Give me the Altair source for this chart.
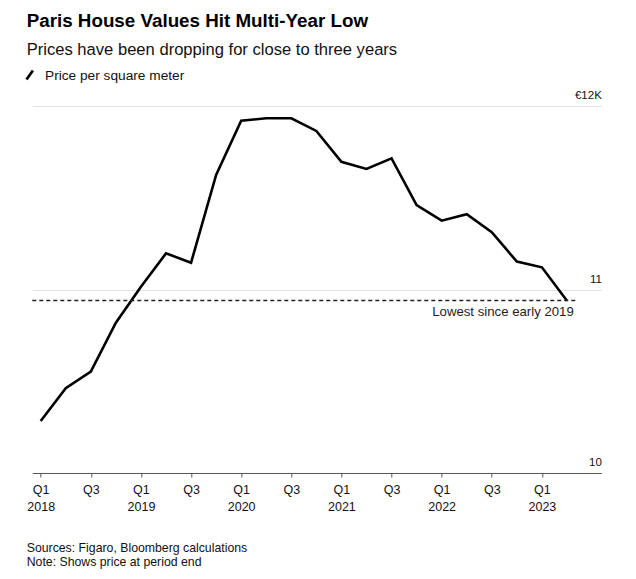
import json
import altair as alt
import pandas as pd

# ---- data ----
quarters = ["2018 Q1", "2018 Q2", "2018 Q3", "2018 Q4",
            "2019 Q1", "2019 Q2", "2019 Q3", "2019 Q4",
            "2020 Q1", "2020 Q2", "2020 Q3", "2020 Q4",
            "2021 Q1", "2021 Q2", "2021 Q3", "2021 Q4",
            "2022 Q1", "2022 Q2", "2022 Q3", "2022 Q4",
            "2023 Q1", "2023 Q2"]
prices = [10283, 10462, 10552, 10819,
          11015, 11197, 11146, 11624,
          11920, 11933, 11933, 11864,
          11696, 11657, 11715, 11460,
          11375, 11410, 11312, 11152,
          11121, 10939]
series_name = "Price per square meter"

low_level = 10940
low_label = "Lowest since early 2019"
x_domain = [-0.335, 22.37]           # quarter index range of the plot area
low_span = [-0.335, 21.33]           # quarter index span of the dashed reference line

tick_positions = [0, 2, 4, 6, 8, 10, 12, 14, 16, 18, 20]
tick_quarters = ["Q1", "Q3", "Q1", "Q3", "Q1", "Q3", "Q1", "Q3", "Q1", "Q3", "Q1"]
tick_years = ["2018", "", "2019", "", "2020", "", "2021", "", "2022", "", "2023"]
y_ticks = [10000, 11000, 12000]

title_text = "Paris House Values Hit Multi-Year Low"
subtitle_text = "Prices have been dropping for close to three years"
footer_lines = ["Sources: Figaro, Bloomberg calculations", "Note: Shows price at period end"]

# ---- build ----
df = pd.DataFrame({
    "quarter": quarters,
    "idx": list(range(len(quarters))),
    "price": prices,
    "series": [series_name] * len(quarters),
})

FONT = "Liberation Sans"
W, H = 569, 367

x_scale = alt.Scale(domain=x_domain, nice=False, zero=False)
y_scale = alt.Scale(domain=[10000, 12000], nice=False, zero=False)

label_js = "[" + ",".join(
    json.dumps([q, y]) if y else json.dumps(q) for q, y in zip(tick_quarters, tick_years)
) + "]"

x_axis = alt.Axis(
    values=tick_positions,
    labelExpr=f"{label_js}[round(datum.value / 2)]",
    title=None, grid=False,
    domainColor="#555", domainWidth=1,
    tickColor="#555", tickSize=4, tickWidth=1,
    labelFont=FONT, labelFontSize=12.5, labelColor="#111",
    labelPadding=7, labelLineHeight=17, labelFlush=False, labelOverlap=False,
    labelAlign="center",
)
y_axis = alt.Axis(
    orient="right", values=y_ticks,
    labelExpr="datum.value == 12000 ? '€12K' : format(datum.value / 1000, 'd')",
    title=None, domain=False, ticks=False, tickSize=0,
    grid=True, gridColor="#e3e3e3", gridWidth=1,
    labelAlign="right", labelBaseline="alphabetic", labelPadding=0, labelOffset=-7.5,
    labelFont=FONT, labelFontSize=11.5, labelColor="#111", labelFlush=False,
)

line = alt.Chart(df).mark_line(strokeWidth=2.6, strokeJoin="miter", color="#000").encode(
    x=alt.X("idx:Q", scale=x_scale, axis=x_axis),
    y=alt.Y("price:Q", scale=y_scale, axis=y_axis),
    detail="series:N",
)

low_df = pd.DataFrame({"x0": [low_span[0]], "x1": [low_span[1]], "y": [low_level], "label": [low_label]})
rule = alt.Chart(low_df).mark_rule(strokeDash=[4, 3], strokeWidth=1.4, color="#222").encode(
    x=alt.X("x0:Q", scale=x_scale, title=None),
    x2="x1:Q",
    y=alt.Y("y:Q", scale=y_scale, title=None),
)
rule_text = alt.Chart(low_df).mark_text(
    align="right", baseline="top", dx=-1.5, dy=5, font=FONT, fontSize=13.2, color="#222"
).encode(
    x=alt.X("x1:Q", scale=x_scale, title=None),
    y=alt.Y("y:Q", scale=y_scale, title=None),
    text="label:N",
)

# legend key: a short diagonal stroke followed by the series name
key_icon = alt.Chart(alt.Data(values=[{"s": series_name}])).mark_rule(
    strokeWidth=2.7, color="#000", strokeCap="butt"
).encode(x=alt.value(-5.8), x2=alt.value(0.6), y=alt.value(-26.5), y2=alt.value(-35.5))

def free_text(txt, x, y, size, weight="normal", color="#000"):
    return alt.Chart(alt.Data(values=[{"t": txt}])).mark_text(
        align="left", baseline="alphabetic", font=FONT, fontSize=size,
        fontWeight=weight, color=color,
    ).encode(text="t:N", x=alt.value(x), y=alt.value(y))

key_text = free_text(series_name, 12.7, -26, 13.7, color="#111")
title = free_text(title_text, -5.6, -79, 18.8, "bold")
subtitle = free_text(subtitle_text, -5.6, -51, 16.6, color="#111")
foot1 = free_text(footer_lines[0], -5.6, 446, 12.3, color="#111")
foot2 = free_text(footer_lines[1], -5.6, 460, 12.3, color="#111")

chart = alt.layer(line, rule, rule_text, key_icon, key_text, title, subtitle, foot1, foot2).properties(
    width=W, height=H,
    autosize=alt.AutoSizeParams(type="none"),
    padding={"left": 24.3, "top": 98, "right": 26, "bottom": 96},
    background="white",
).configure_view(stroke=None)

chart.save("out.html", embed_options={"renderer": "svg", "actions": False})
